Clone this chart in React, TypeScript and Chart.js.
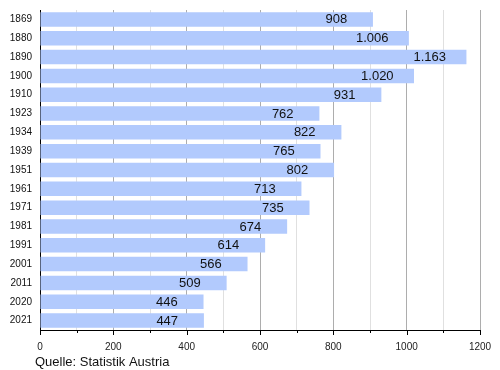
import React, { useEffect, useRef } from "react";
import { Chart, registerables } from "chart.js";

Chart.register(...registerables);

const years = ["1869", "1880", "1890", "1900", "1910", "1923", "1934", "1939", "1951", "1961", "1971", "1981", "1991", "2001", "2011", "2020", "2021"];
const values = [908, 1006, 1163, 1020, 931, 762, 822, 765, 802, 713, 735, 674, 614, 566, 509, 446, 447];
const xMin = 0;
const xMax = 1200;
const xStep = 100;
const source = "Quelle: Statistik Austria";

const fmt = (v: number) => v.toLocaleString("de-DE");

const overlay = {
  id: "overlay",
  afterDatasetsDraw(chart: any) {
    const ctx = chart.ctx;
    const xs = chart.scales.x;
    const ys = chart.scales.y;
    ctx.save();
    ctx.font = "13px 'Liberation Sans', Arial, sans-serif";
    ctx.fillStyle = "#111";
    ctx.textAlign = "center";
    ctx.textBaseline = "middle";
    values.forEach((v, i) => {
      const x = xs.getPixelForValue(v - 100);
      const y = ys.getPixelForValue(i);
      ctx.fillText(fmt(v), x, y + 0.5);
    });
    ctx.strokeStyle = "#000";
    ctx.lineWidth = 1;
    const bottom = chart.chartArea.bottom;
    for (let v = xMin; v <= xMax; v += xStep) {
      const x = Math.round(xs.getPixelForValue(v)) + 0.5;
      const len = v % 200 === 0 ? 5 : 3;
      ctx.beginPath();
      ctx.moveTo(x, bottom);
      ctx.lineTo(x, bottom + len);
      ctx.stroke();
    }
    ctx.font = "13px 'Liberation Sans', Arial, sans-serif";
    ctx.fillStyle = "#111";
    ctx.textAlign = "left";
    ctx.textBaseline = "middle";
    ctx.fillText(source, 35, 362);
    ctx.restore();
  },
};

export default function App() {
  const ref = useRef<HTMLCanvasElement>(null);
  useEffect(() => {
    if (!ref.current) return;
    const chart = new Chart(ref.current, {
      type: "bar",
      data: {
        labels: years,
        datasets: [
          {
            data: values,
            backgroundColor: "#b2cafd",
            borderWidth: 0,
            barPercentage: 0.77,
            categoryPercentage: 1,
          },
        ],
      },
      options: {
        indexAxis: "y",
        animation: false,
        responsive: false,
        maintainAspectRatio: false,
        layout: { padding: { top: 10, right: 20, left: 0, bottom: 0 } },
        plugins: { legend: { display: false }, tooltip: { enabled: false } },
        scales: {
          x: {
            min: xMin,
            max: xMax,
            afterFit: (s: any) => {
              s.height = 40;
              s.paddingLeft = 0;
              s.paddingRight = 0;
            },
            ticks: {
              stepSize: xStep,
              autoSkip: false,
              maxRotation: 0,
              padding: 11,
              color: "#222",
              font: { family: "'Liberation Sans', Arial, sans-serif", size: 10 },
              callback: (v: any) => (Number(v) % 200 === 0 ? String(v) : ""),
            },
            grid: {
              drawTicks: false,
              color: (c: any) => (c.tick && c.tick.value % 200 === 0 ? "#adadad" : "#e0e0e0"),
            },
            border: { display: true, color: "#000", width: 1 },
          },
          y: {
            afterFit: (s: any) => {
              s.width = 40;
              s.paddingTop = 0;
              s.paddingBottom = 0;
            },
            ticks: {
              padding: 8,
              color: "#111",
              autoSkip: false,
              font: { family: "'Liberation Sans', Arial, sans-serif", size: 10 },
            },
            grid: { display: false, drawTicks: false },
            border: { display: true, color: "#000", width: 1 },
          },
        },
      },
      plugins: [overlay],
    });
    return () => chart.destroy();
  }, []);
  return (
    <div style={{ position: "fixed", left: 0, top: 0, width: 500, height: 370, background: "#fff" }}>
      <canvas ref={ref} width={500} height={370} style={{ width: 500, height: 370 }} />
    </div>
  );
}
